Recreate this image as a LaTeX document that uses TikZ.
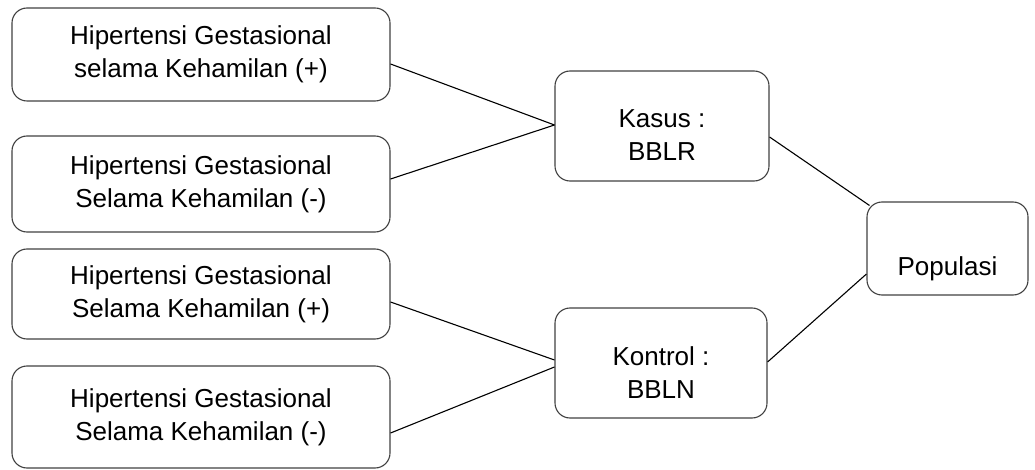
\documentclass[tikz,border=0pt]{standalone}
\usepackage{fontspec}
\setmainfont{Liberation Sans}
\usetikzlibrary{calc}

\tikzset{
  box/.style={draw=black!75, line width=1.1pt, rounded corners=15pt, align=center, inner sep=0pt},
  link/.style={draw=black, line width=1.1pt},
}

\begin{document}
\begin{tikzpicture}[x=1pt,y=-1pt,font=\fontsize{26}{33}\selectfont]

\useasboundingbox (0,0) rectangle (1035,470);

% Exposure boxes
\node[box, minimum width=378, minimum height=93] (hplusa) at (201,54.5) {Hipertensi Gestasional\\selama Kehamilan (+)};
\node[box, minimum width=378, minimum height=96] (hmina) at (201,184) {Hipertensi Gestasional\\Selama Kehamilan (-)};
\node[box, minimum width=378, minimum height=90] (hplusb) at (201,294) {Hipertensi Gestasional\\Selama Kehamilan (+)};
\node[box, minimum width=378, minimum height=102] (hminb) at (201,417) {Hipertensi Gestasional\\Selama Kehamilan (-)};

% Case and control groups
\node[box, minimum width=214, minimum height=110] (kasus) at (662,126) {};
\node[align=center] (kasustext) at ($(kasus.center)+(0,9)$) {Kasus :\\BBLR};
\node[box, minimum width=212, minimum height=110] (kontrol) at (661,363) {};
\node[align=center] (kontroltext) at ($(kontrol.center)+(0,10)$) {Kontrol :\\BBLN};

% Population
\node[box, minimum width=161, minimum height=93] (populasi) at (947.5,248.5) {};
\node (populasitext) at ($(populasi.center)+(0,20)$) {Populasi};

% Connectors
\draw[link] ($(hplusa.east)+(0,9.5)$) -- ($(kasus.west)+(0,-1)$);
\draw[link] ($(hmina.east)+(0,-5)$) -- ($(kasus.west)+(0,-1)$);
\draw[link] ($(hplusb.east)+(0,8)$) -- ($(kontrol.west)+(0,-3)$);
\draw[link] ($(hminb.east)+(0,16)$) -- ($(kontrol.west)+(0,4)$);
\draw[link] ($(kasus.east)+(0,11)$) -- ($(populasi.north west)+(3,4)$);
\draw[link] ($(kontrol.east)+(0,-1)$) -- ($(populasi.west)+(0,25.5)$);

\end{tikzpicture}
\end{document}
